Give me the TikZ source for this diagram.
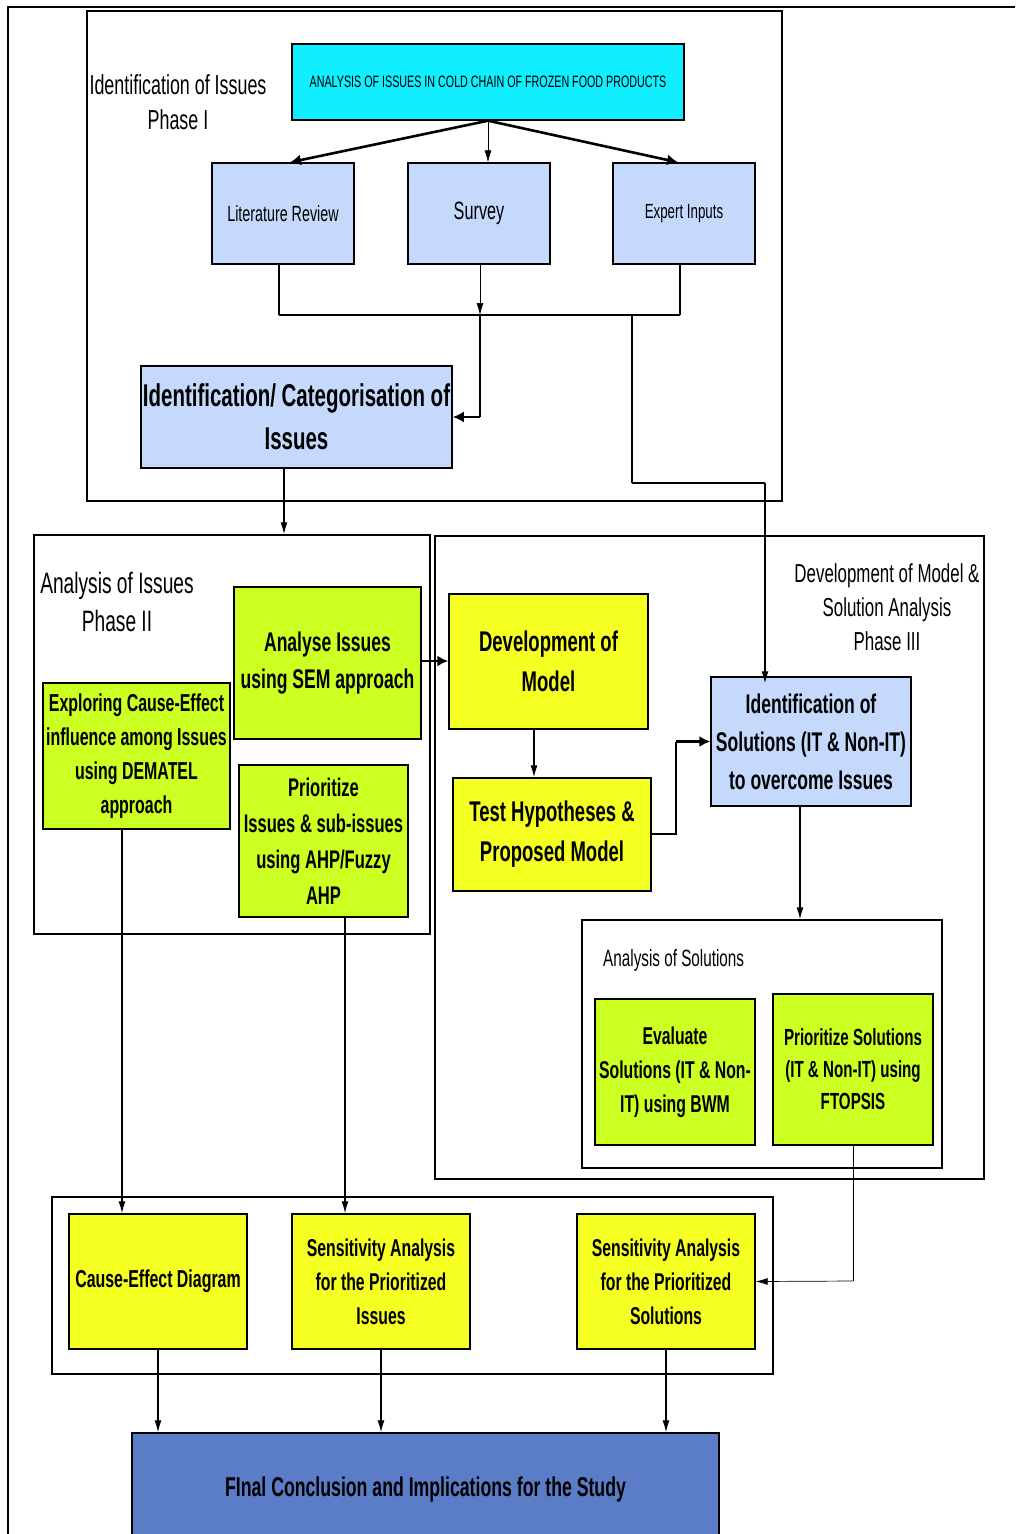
\documentclass[tikz,border=0pt]{standalone}
\usepackage{fontspec}
\setmainfont{Liberation Sans}[FakeStretch=0.65]
\usetikzlibrary{arrows.meta}
\definecolor{cyanfill}{HTML}{10EEFF}
\definecolor{paleblue}{HTML}{C5D9FC}
\definecolor{limefill}{HTML}{CCFF22}
\definecolor{yellowfill}{HTML}{F5FF22}
\definecolor{finalblue}{HTML}{5B7CC6}
\newcommand{\fs}[2]{\fontsize{#1}{#2}\selectfont}
\tikzset{
  box/.style={draw=black, line width=1.4pt, align=center, inner sep=2pt},
  cyanbox/.style={box, fill=cyanfill},
  bluebox/.style={box, fill=paleblue},
  limebox/.style={box, fill=limefill},
  yellowbox/.style={box, fill=yellowfill},
  finalbox/.style={box, fill=finalblue},
  frame/.style={draw=black, line width=1.4pt, inner sep=0pt},
  lbl/.style={align=center, inner sep=0pt},
  conn/.style={line width=1.3pt},
  arr/.style={conn, -{Latex[length=12pt,width=7pt]}},
  fatline/.style={line width=2.6pt},
  fatarr/.style={line width=2.6pt, -{Latex[length=11pt,width=11pt]}}
}
\begin{document}
\begin{tikzpicture}[x=1pt,y=-1pt]
\useasboundingbox (0,0) rectangle (1015,1534);
\clip (0,0) rectangle (1015,1534);
% page border
\draw[line width=1.6pt] (1015,7) -- (8,7) -- (8,1534);

% ---------- Phase I ----------
\node[frame, minimum width=695pt, minimum height=490pt] (p1) at (434.5,256) {};
\node[lbl, font=\fs{27.5}{35}] (p1lbl) at (178,102) {Identification of Issues\\Phase I};
\node[cyanbox, minimum width=392pt, minimum height=76pt, font=\fs{16.5}{19}] (top) at (488,82)
  {ANALYSIS OF ISSUES IN COLD CHAIN OF FROZEN FOOD PRODUCTS};
\node[bluebox, minimum width=142pt, minimum height=101pt, font=\fs{22}{26}] (lit) at (283,213.5) {Literature Review};
\node[bluebox, minimum width=142pt, minimum height=101pt, font=\fs{25}{28}] (survey) at (479,213.5) {Survey};
\node[bluebox, minimum width=142pt, minimum height=101pt, font=\fs{20.5}{24}] (expert) at (684,213.5) {Expert Inputs};
\node[bluebox, minimum width=311pt, minimum height=102pt, font=\bfseries\fs{31.5}{43}] (idcat) at (296.5,417)
  {Identification/ Categorisation of\\Issues};

\draw[fatarr] (top.south) -- ([xshift=7pt]lit.north);
\draw[arr, line width=0.6pt] (top.south) -- (top.south |- survey.north);
\draw[fatarr] (top.south) -- ([xshift=-6pt]expert.north);

\coordinate (jl) at (279,315);
\coordinate (jm) at (480,315);
\coordinate (jr) at (680,315);
\coordinate (jb) at (632,315);
\draw[conn] (lit.south -| jl) -- (jl);
\draw[conn] (expert.south -| jr) -- (jr);
\draw[fatline] (jl) -- (jr);
\draw[arr, line width=0.6pt] (survey.south -| jm) -- (jm);
\draw[conn] (jm) -- (jm |- idcat.east);
\draw[fatarr] (jm |- idcat.east) -- (idcat.east);

% ---------- Phase II ----------
\node[frame, minimum width=396pt, minimum height=399pt] (p2) at (232,734.5) {};
\node[lbl, font=\fs{29.5}{38}] (p2lbl) at (117,602) {Analysis of Issues\\Phase II};
\node[limebox, minimum width=187pt, minimum height=152pt, font=\bfseries\fs{27}{37}] (sem) at (327.5,663)
  {Analyse Issues\\using SEM approach};
\node[limebox, minimum width=187pt, minimum height=146pt, font=\bfseries\fs{24.5}{34}] (dematel) at (136.5,756)
  {Exploring Cause-Effect\\influence among Issues\\using DEMATEL\\approach};
\node[limebox, minimum width=169pt, minimum height=152pt, font=\bfseries\fs{25.5}{36}] (ahp) at (323.5,841)
  {Prioritize\\Issues \& sub-issues\\using AHP/Fuzzy\\AHP};

\draw[arr] (idcat.south -| 284,0) -- (p2.north -| 284,0);

% ---------- Phase III ----------
\node[frame, minimum width=549pt, minimum height=643pt] (p3) at (709.5,857.5) {};
\node[lbl, font=\fs{26}{34}] (p3lbl) at (887,607) {Development of Model \&\\Solution Analysis\\Phase III};
\node[yellowbox, minimum width=199pt, minimum height=135pt, font=\bfseries\fs{28.5}{40}] (dev) at (548.5,661.5)
  {Development of\\Model};
\node[yellowbox, minimum width=198pt, minimum height=113pt, font=\bfseries\fs{28.5}{40}] (test) at (552,834.5)
  {Test Hypotheses \&\\Proposed Model};
\node[bluebox, minimum width=200pt, minimum height=129pt, font=\bfseries\fs{27}{38}] (idsol) at (811,741.5)
  {Identification of\\Solutions (IT \& Non-IT)\\to overcome Issues};

\node[frame, minimum width=360pt, minimum height=248pt] (sol) at (762,1044) {};
\node[lbl, font=\fs{23.5}{28}, anchor=west] (sollbl) at (603,960) {Analysis of Solutions};
\node[limebox, minimum width=160pt, minimum height=146pt, font=\bfseries\fs{24.3}{34}] (bwm) at (675,1072)
  {Evaluate\\Solutions (IT \& Non-\\IT) using BWM};
\node[limebox, minimum width=160pt, minimum height=151pt, font=\bfseries\fs{23.3}{32}] (ftop) at (853,1069.5)
  {Prioritize Solutions\\(IT \& Non-IT) using\\FTOPSIS};

\draw[fatarr] (sem.east |- 0,661) -- (dev.west |- 0,661);
\draw[arr] (dev.south -| 534,0) -- (test.north -| 534,0);
\coordinate (tk) at (676,834);
\draw[fatline] (test.east |- tk) -- (tk) -- (tk |- idsol.west);
\draw[fatarr] (tk |- idsol.west) -- (idsol.west);
\draw[arr] (idsol.south -| 800,0) -- (sol.north -| 800,0);

% connector from the source merge down to the solutions box
\coordinate (bk1) at (632,483);
\coordinate (bk2) at (765,483);
\draw[conn] (jb) -- (bk1);
\draw[fatline] (bk1) -- (bk2);
\draw[arr] (bk2) -- ([yshift=-7pt]idsol.north -| bk2);

% ---------- Sensitivity analysis ----------
\node[frame, minimum width=721pt, minimum height=177pt] (sens) at (412.5,1285.5) {};
\node[yellowbox, minimum width=178pt, minimum height=135pt, font=\bfseries\fs{24.5}{34}] (ce) at (158,1281.5)
  {Cause-Effect Diagram};
\node[yellowbox, minimum width=178pt, minimum height=135pt, font=\bfseries\fs{24.3}{34}] (sai) at (381,1281.5)
  {Sensitivity Analysis\\for the Prioritized\\Issues};
\node[yellowbox, minimum width=178pt, minimum height=135pt, font=\bfseries\fs{24.3}{34}] (sas) at (666,1281.5)
  {Sensitivity Analysis\\for the Prioritized\\Solutions};

\draw[arr] (dematel.south -| 122,0) -- (ce.north -| 122,0);
\draw[arr] (ahp.south -| 345,0) -- (sai.north -| 345,0);
\coordinate (fk) at (853,1281);
\draw[conn, line width=0.7pt] (ftop.south) -- (fk);
\draw[arr, line width=0.7pt] (fk) -- (sas.east);

% ---------- Conclusion ----------
\node[finalbox, minimum width=587pt, minimum height=112pt, font=\bfseries\fs{27.2}{34}] (final) at (425.5,1489)
  {FInal Conclusion and Implications for the Study};
\draw[arr] (ce.south) -- (ce.south |- final.north);
\draw[arr] (sai.south) -- (sai.south |- final.north);
\draw[arr] (sas.south) -- (sas.south |- final.north);
\end{tikzpicture}
\end{document}
